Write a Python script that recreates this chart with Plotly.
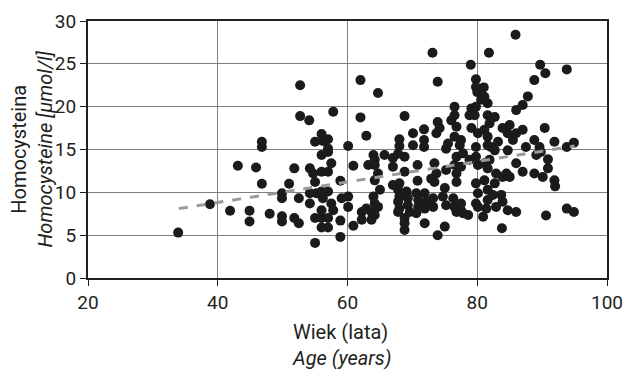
import plotly.graph_objects as go

# Age (years) and homocysteine (µmol/l)
age = [
    33.9, 38.8, 41.9, 43.1, 44.9, 44.9, 45.9, 46.8, 46.8, 46.8, 48.0, 49.9, 49.9, 49.9, 49.9,
    51.0, 51.8, 51.8, 52.7, 52.7, 52.5, 52.5,
    62.0, 64.7, 54.1, 57.8, 62.0, 62.9, 56.0, 55.0, 56.2, 57.0, 57.0, 60.1,
    56.0, 57.0, 54.2, 54.7, 56.0, 57.0, 57.5, 55.0, 58.9, 60.9, 63.2, 64.0, 64.2, 54.2, 54.2,
    55.2, 56.0, 57.0, 56.2, 57.5, 57.8, 59.1, 60.1, 60.1, 56.0, 55.0, 56.0, 57.0, 56.0, 57.0,
    58.9, 58.9, 55.0, 60.9, 62.2, 62.9, 63.7, 62.2, 63.7, 64.2, 64.0, 64.2,
    73.1, 73.9, 68.8, 76.5, 76.5, 76.0, 73.9, 74.2, 73.7, 71.8, 70.1, 68.0, 68.0, 70.1, 71.8,
    71.8, 76.8, 76.5, 75.5, 75.2, 77.3,
    64.2, 65.7, 67.0, 67.8, 68.8, 64.7, 64.2, 67.0, 68.8, 70.8, 70.8, 73.4, 73.7, 72.9, 73.4,
    75.2, 76.5, 76.8, 77.5, 65.0, 64.7,
    67.0, 68.0, 67.8, 68.0, 67.8, 68.0, 67.8, 68.8, 68.8, 68.8, 69.1, 69.3, 69.3, 69.6, 70.6,
    70.9, 70.9, 70.6, 71.9, 72.2, 71.9, 71.9, 73.2, 73.2, 73.9, 75.0, 75.0, 74.7, 75.2, 76.3,
    76.5, 76.8, 77.5, 77.8,
    85.9, 81.8, 79.0, 89.7, 90.5, 88.8, 79.8, 79.8, 81.0, 80.0, 81.1, 80.6, 81.6, 87.8, 87.0,
    86.0, 79.1, 79.8, 78.8, 79.6, 81.6, 82.7, 81.9, 77.5, 79.1, 80.1, 81.1, 81.6, 82.1, 83.2,
    83.9, 85.0, 84.7, 86.0, 87.0, 85.5, 87.5, 88.8, 89.6, 90.4,
    79.8, 81.6, 82.7, 84.7, 86.0, 87.0, 89.1, 88.8, 90.1, 90.6,
    89.8, 91.9, 93.8, 94.9, 90.9, 90.9, 91.9, 92.0, 93.8, 94.9, 93.8,
    76.8, 77.8, 78.8, 79.8, 80.1, 81.1, 81.9, 81.6, 82.9, 83.9, 84.5, 85.0,
    76.8, 77.5, 78.6, 79.8, 80.1, 79.8, 80.1, 80.9, 81.1, 81.6, 81.6, 81.4, 82.7, 82.4, 82.9,
    83.7, 83.9, 84.7, 86.0, 83.8,
]
homocysteine = [
    5.3, 8.6, 7.85, 13.1, 7.85, 6.6, 12.9, 15.9, 15.3, 11.0, 7.5, 7.2, 6.6, 9.9, 9.3,
    11.0, 12.8, 7.0, 22.5, 18.9, 9.3, 6.4,
    23.1, 21.6, 18.4, 19.4, 18.75, 16.6, 16.8, 15.9, 16.0, 16.2, 15.1, 15.4,
    14.35, 14.7, 12.8, 12.2, 12.4, 12.4, 13.4, 11.2, 11.35, 13.1, 13.2, 14.35, 13.2, 9.9, 8.7,
    9.9, 10.1, 10.1, 9.3, 8.7, 7.9, 9.3, 9.5, 8.3, 7.9, 7.0, 7.0, 7.0, 5.9, 5.9,
    6.7, 4.8, 4.1, 6.1, 7.7, 8.1, 7.7, 6.8, 6.8, 7.35, 9.5, 8.7,
    26.3, 22.9, 18.9, 20.0, 19.0, 18.4, 18.2, 17.5, 16.9, 17.35, 16.9, 16.2, 15.4, 15.5, 16.1,
    15.3, 17.65, 16.5, 15.7, 15.1, 15.5,
    13.8, 14.35, 14.0, 14.5, 14.15, 12.2, 11.4, 13.0, 12.4, 13.2, 11.35, 13.4, 12.2, 11.6, 11.2,
    12.6, 13.2, 12.2, 13.0, 10.3, 8.3,
    10.85, 11.05, 10.3, 9.5, 8.9, 8.1, 7.7, 7.0, 6.4, 5.6, 10.1, 9.3, 8.5, 7.7, 9.9,
    9.1, 8.3, 7.55, 9.9, 8.9, 8.1, 6.4, 9.3, 8.3, 5.0, 6.0, 10.5, 9.5, 8.5, 9.3,
    8.3, 7.7, 8.7, 7.55,
    28.4, 26.3, 24.9, 24.9, 23.9, 23.1, 23.2, 22.3, 22.25, 21.7, 21.15, 20.8, 20.4, 21.2, 20.2,
    19.6, 19.8, 20.0, 19.0, 19.0, 19.0, 18.8, 18.05, 16.1, 17.5, 16.9, 17.3, 16.5, 15.3, 15.9,
    17.5, 17.85, 16.9, 16.9, 17.3, 16.1, 15.3, 16.1, 15.3, 17.5,
    15.3, 15.5, 14.9, 14.9, 13.4, 12.4, 14.35, 12.2, 11.8, 7.3,
    14.7, 15.9, 15.3, 15.8, 13.85, 12.8, 11.4, 10.7, 8.1, 7.7, 24.35,
    14.15, 14.55, 13.8, 14.15, 13.2, 13.4, 13.8, 12.8, 12.2, 11.8, 12.2, 11.8,
    11.2, 7.9, 7.35, 11.05, 9.9, 8.7, 8.3, 7.15, 11.4, 10.3, 9.1, 8.1, 11.05, 9.7, 8.3,
    9.7, 8.9, 7.9, 7.7, 5.8,
]

# Trend line end points
trend_age = [34.0, 95.0]
trend_hcy = [8.1, 15.4]

x_ticks = [20, 40, 60, 80, 100]
y_ticks = [0, 5, 10, 15, 20, 25, 30]

FONT = "Roboto, Liberation Sans, sans-serif"

fig = go.Figure()
fig.add_trace(go.Scatter(
    x=age, y=homocysteine, mode="markers",
    marker=dict(size=10, color="#1c1a1b", line=dict(width=0)),
    hoverinfo="skip", showlegend=False,
))
fig.add_trace(go.Scatter(
    x=trend_age, y=trend_hcy, mode="lines",
    line=dict(color="#9a9a9a", width=3, dash="dash"),
    hoverinfo="skip", showlegend=False,
))

axis_common = dict(
    ticks="outside", ticklen=6, tickcolor="#231f20",
    showline=True, linecolor="#231f20", linewidth=2, mirror=True,
    showgrid=True, gridcolor="#7f7f7f", gridwidth=1,
    zeroline=False, tickfont=dict(size=19), automargin=False,
    ticklabeloverflow="allow",
)

fig.update_layout(
    width=623, height=369,
    margin=dict(l=88, r=16, t=21, b=91),
    paper_bgcolor="white", plot_bgcolor="white",
    font=dict(family=FONT, size=20, color="#231f20"),
    xaxis=dict(range=[20, 100], tickvals=x_ticks, **axis_common),
    yaxis=dict(range=[0, 30], tickvals=y_ticks, **axis_common),
    annotations=[
        dict(text="Wiek (lata)<br><i>Age (years)</i>", xref="paper", yref="paper",
             x=0.49, y=0, yshift=-40, xanchor="center", yanchor="top",
             showarrow=False, font=dict(size=20), align="left"),
        dict(text="Homocysteina<br><i>Homocysteine [μmol/l]</i>", xref="paper", yref="paper",
             x=0, y=0.5, xshift=-30, xanchor="right", yanchor="middle", textangle=-90,
             showarrow=False, font=dict(size=20)),
    ],
)

# remove the default page margin so the figure fills the window exactly
fig.write_html(
    "out.html",
    config={"displayModeBar": False, "staticPlot": True},
    post_script="document.body.style.margin='0';document.body.style.overflow='hidden';",
)
